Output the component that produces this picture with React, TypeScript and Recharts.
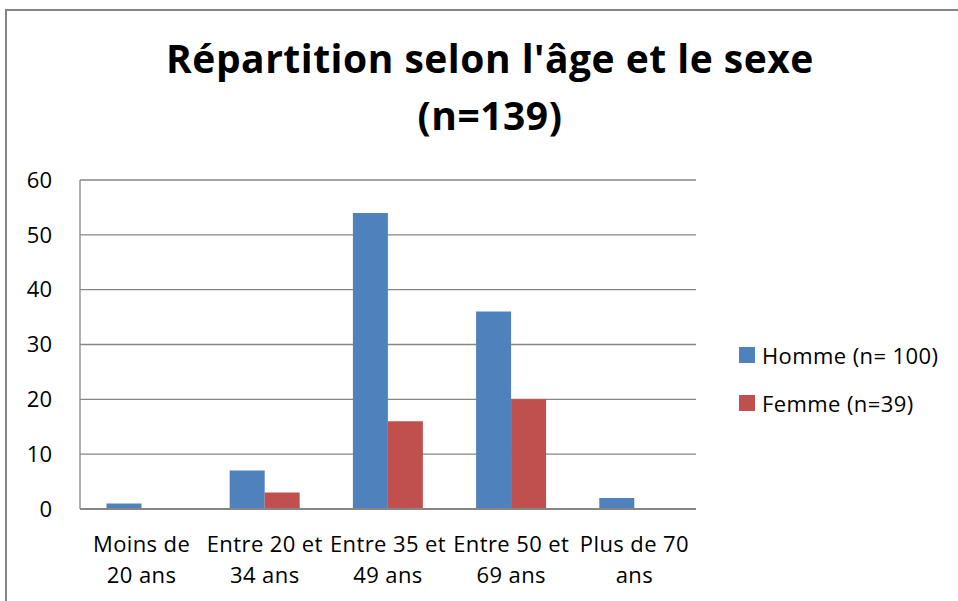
import React from "react";
import { BarChart, Bar, XAxis, YAxis, CartesianGrid } from "recharts";

const categories = [
  "Moins de\n20 ans",
  "Entre 20 et\n34 ans",
  "Entre 35 et\n49 ans",
  "Entre 50 et\n69 ans",
  "Plus de 70\nans",
];
const homme = [1, 7, 54, 36, 2];
const femme = [0, 3, 16, 20, 0];
const yTicks = [0, 10, 20, 30, 40, 50, 60];
const seriesNames = ["Homme (n= 100)", "Femme (n=39)"];
const colors = ["#4F81BD", "#C0504D"];

const data = categories.map((c, i) => ({ cat: c, homme: homme[i], femme: femme[i] }));

const FONT = "'Open Sans', Lato, sans-serif";

function XTick({ x, y, payload }: any) {
  const lines = String(payload.value).split("\n");
  return (
    <text x={x} y={y} textAnchor="middle" fontFamily={FONT} fontSize={22} letterSpacing={0.4} fill="#000">
      {lines.map((l, i) => (
        <tspan key={i} x={x} dy={i === 0 ? 35 : 31}>
          {l}
        </tspan>
      ))}
    </text>
  );
}

export default function App() {
  return (
    <div style={{ position: "absolute", left: 0, top: 0, width: 958, height: 601, background: "#fff", overflow: "hidden" }}>
      {/* outer chart frame */}
      <div
        style={{
          position: "absolute",
          left: 5,
          top: 9,
          width: 1000,
          height: 700,
          borderLeft: "2px solid #868686",
          borderTop: "2px solid #868686",
        }}
      />
      <div
        style={{
          position: "absolute",
          left: 0,
          top: 29,
          width: 980,
          textAlign: "center",
          fontFamily: FONT,
          fontWeight: 700,
          fontSize: 39,
          letterSpacing: 0.5,
          lineHeight: "57px",
          color: "#000",
        }}
      >
        Répartition selon l'âge et le sexe
        <br />
        (n=139)
      </div>
      <div style={{ position: "absolute", left: 0, top: 0 }}>
        <BarChart
          width={958}
          height={601}
          data={data}
          margin={{ top: 180, right: 262, bottom: 32, left: 0 }}
          barCategoryGap="21.5%"
          barGap={0}
        >
          <CartesianGrid vertical={false} stroke="#868686" strokeWidth={1.3} />
          <XAxis
            dataKey="cat"
            height={60}
            tick={<XTick />}
            tickLine={false}
            axisLine={{ stroke: "#868686", strokeWidth: 2 }}
            interval={0}
          />
          <YAxis
            width={80}
            domain={[0, 60]}
            ticks={yTicks}
            tickLine={false}
            axisLine={{ stroke: "#868686", strokeWidth: 1.3 }}
            tick={{ fontFamily: FONT, fontSize: 22, fill: "#000" }}
            tickMargin={22}
          />
          <Bar dataKey="homme" name={seriesNames[0]} fill={colors[0]} isAnimationActive={false} />
          <Bar dataKey="femme" name={seriesNames[1]} fill={colors[1]} isAnimationActive={false} />
        </BarChart>
      </div>
      {seriesNames.map((n, i) => (
        <div
          key={n}
          style={{
            position: "absolute",
            left: 739,
            top: 339 + i * 48,
            height: 32,
            display: "flex",
            alignItems: "center",
            fontFamily: FONT,
            fontSize: 22,
            letterSpacing: 0.4,
            color: "#000",
            whiteSpace: "nowrap",
          }}
        >
          <span style={{ display: "inline-block", width: 16, height: 16, background: colors[i], marginRight: 7 }} />
          {n}
        </div>
      ))}
    </div>
  );
}
